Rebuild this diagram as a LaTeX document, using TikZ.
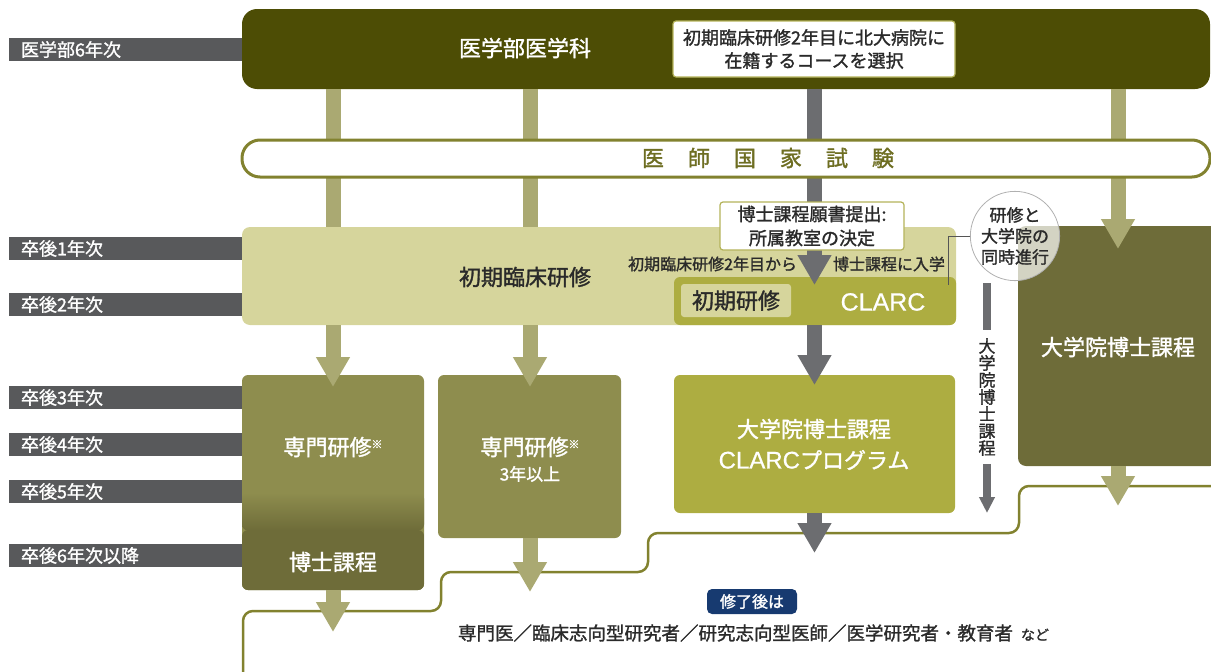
\documentclass[tikz,border=0pt]{standalone}
\usepackage{fontspec}
\setmainfont{Noto Sans CJK JP}[FakeBold=1.4]
\newfontfamily\latinf{Liberation Sans}[FakeBold=0.6]
\usetikzlibrary{arrows.meta}
\definecolor{labgrey}{HTML}{58595B}
\definecolor{topc}{HTML}{4D4D05}
\definecolor{lolive}{HTML}{AAA972}
\definecolor{capol}{HTML}{82822F}
\definecolor{captext}{HTML}{6E6E22}
\definecolor{khaki}{HTML}{D6D59C}
\definecolor{clarcc}{HTML}{ADAD41}
\definecolor{midol}{HTML}{8E8D4E}
\definecolor{darkol}{HTML}{6E6C39}
\definecolor{greya}{HTML}{6C6D70}
\definecolor{navy}{HTML}{173A70}
\definecolor{txt}{HTML}{2A2A2A}
\definecolor{wborder}{HTML}{B4B35A}
\definecolor{circgrey}{HTML}{B0B0B0}
\newcommand\fs[1]{\fontsize{#1}{#1}\selectfont}
\newcommand\gp{\hspace{24pt}}
\begin{document}
\begin{tikzpicture}[x=1pt,y=-1pt,
  every node/.style={inner sep=0pt, outer sep=0pt},
  lab/.style={fill=labgrey, text=white, anchor=west, minimum height=23pt, text width=210pt, align=left, inner xsep=12pt, font=\fs{18}},
  blk/.style={rectangle, rounded corners=#1},
  lbar/.style={draw=lolive, line width=15pt},
  lfat/.style={draw=lolive, line width=15pt, -{Triangle[width=32pt,length=30pt]}},
  gfat/.style={draw=greya, line width=15pt, -{Triangle[width=32pt,length=30pt]}},
  wbox/.style={rectangle, rounded corners=3pt, fill=white, draw=wborder, line width=1.2pt, align=center, text=txt},
  stepl/.style={draw=capol, line width=2.5pt, rounded corners=10pt},
  vbar/.style={draw=greya, line width=8pt}
]
\useasboundingbox (0,0) rectangle (1211,672);

% year labels
\node[lab] (y0) at (9,49.5) {医学部6年次};
\node[lab] (y1) at (9,248.5) {卒後1年次};
\node[lab] (y2) at (9,304.5) {卒後2年次};
\node[lab] (y3) at (9,397.5) {卒後3年次};
\node[lab] (y4) at (9,444.5) {卒後4年次};
\node[lab] (y5) at (9,491.5) {卒後5年次};
\node[lab] (y6) at (9,555.5) {卒後6年次以降};

% main boxes
\node[blk=15pt, fill=topc, minimum width=968pt, minimum height=80pt] (top) at (726,49) {};
\node[blk=8pt, fill=khaki, minimum width=714pt, minimum height=98pt] (band) at (599,276) {};
\node[blk=6pt, fill=clarcc, minimum width=282pt, minimum height=48pt] (clarc) at (815,301) {};
\node[blk=3pt, fill=khaki, minimum width=110pt, minimum height=33pt, text=txt, font=\fs{22}] (shoki) at (736,300.5) {初期研修};
\node[blk=6pt, fill=midol, minimum width=182pt, minimum height=215pt,
  path picture={
    \fill[darkol] ([yshift=-47.5pt]path picture bounding box.west) rectangle (path picture bounding box.south east);
    \shade[top color=midol, bottom color=darkol] ([yshift=-10pt]path picture bounding box.west) rectangle ([yshift=-48pt]path picture bounding box.east);
  }] (sen1) at (333,482.5) {};
\node[blk=6pt, fill=midol, minimum width=183pt, minimum height=163pt] (sen2) at (529.5,456.5) {};
\node[blk=6pt, fill=clarcc, minimum width=281pt, minimum height=138pt] (cprog) at (814.5,444) {};
\node[blk=8pt, fill=darkol, minimum width=200pt, minimum height=240pt] (rbox) at (1118,346) {};

% bottom step line
\draw[stepl] (243,690) -- (243,611) -- (441,611) -- (441,572) -- (648,572) -- (648,533) -- (1019,533) -- (1019,486) -- (1230,486);

% connectors
\coordinate (c1) at (333,0);
\coordinate (c2) at (530,0);
\coordinate (c3) at (814.5,0);
\coordinate (c4) at (1118,0);
\draw[lbar] (top.south -| c1) -- (band.north -| c1);
\draw[lbar] (top.south -| c2) -- (band.north -| c2);
\draw[lfat] (top.south -| c4) -- ([yshift=-23pt]rbox.north -| c4);
\draw[gfat] (top.south -| c3) -- ([yshift=-8pt]clarc.north -| c3);
\draw[lfat] (band.south -| c1) -- ([yshift=-12pt]sen1.north -| c1);
\draw[lfat] (band.south -| c2) -- ([yshift=-12pt]sen2.north -| c2);
\draw[gfat] (clarc.south -| c3) -- ([yshift=-10pt]cprog.north -| c3);
\draw[lfat] (sen1.south -| c1) -- ([yshift=-42pt]sen1.south -| c1);
\draw[lfat] (sen2.south -| c2) -- ([yshift=-54pt]sen2.south -| c2);
\draw[gfat] (cprog.south -| c3) -- ([yshift=-40pt]cprog.south -| c3);
\draw[lfat] (rbox.south -| c4) -- ([yshift=-40pt]rbox.south -| c4);

% exam capsule
\node[blk=18pt, draw=capol, line width=3pt, fill=white, minimum width=968pt, minimum height=37pt] (cap) at (726,158.5) {};
\node[text=captext, font=\fs{22}] (captxt) at (768,158) {医\gp 師\gp 国\gp 家\gp 試\gp 験};

% white boxes
\node[wbox, minimum width=282pt, minimum height=56pt, font=\fontsize{18}{23}\selectfont] (sel) at (814,49) {初期臨床研修2年目に北大病院に\\在籍するコースを選択};
\node[wbox, minimum width=184pt, minimum height=48pt, font=\fontsize{18}{24}\selectfont] (hakase) at (812,226) {博士課程願書提出:\\所属教室の決定};

% circle
\node[circle, minimum size=88pt, fill=white, fill opacity=0.7, text opacity=1, draw=circgrey, line width=0.8pt, align=center, text=txt, font=\fontsize{17}{21}\selectfont] (circ) at (1015,236) {研修と\\大学院の\\同時進行};
\coordinate (cl) at (948,285);
\draw[draw=txt!80, line width=0.8pt] (circ.west) -| (cl);

% vertical label
\node[text=txt, align=center, font=\fontsize{17}{17}\selectfont] (vlab) at (987,397) {大\\学\\院\\博\\士\\課\\程};
\coordinate (vtop) at (987,283);
\coordinate (vend) at (987,513);
\draw[vbar] (vtop) -- ([yshift=8pt]vlab.north);
\draw[vbar, -{Triangle[width=15pt,length=16pt]}] ([yshift=-8pt]vlab.south) -- (vend);

% texts
\node[text=white, font=\fs{22}] (toptxt) at (525,48) {医学部医学科};
\node[text=txt, font=\fs{22}] (bandtxt) at (525,277) {初期臨床研修};
\node[text=white, font=\latinf\fs{25}] (clarctxt) at (883,302) {CLARC};
\node[anchor=east, text=txt, font=\fs{16}] (from2) at (797,264) {初期臨床研修2年目から};
\node[anchor=west, text=txt, font=\fs{16}] (enter) at (833,264) {博士課程に入学};
\node[text=white, font=\fs{22}] (s1a) at (333,447) {専門研修\raisebox{7pt}{\fs{11}※}};
\node[text=white, font=\fs{22}] (s1b) at (333,562) {博士課程};
\node[text=white, font=\fs{22}] (s2a) at (530,447) {専門研修\raisebox{7pt}{\fs{11}※}};
\node[text=white, font=\fs{17}] (s2b) at (530,474) {3年以上};
\node[text=white, font=\fs{22}] (cp1) at (814,429) {大学院博士課程};
\node[text=white, font=\fs{22}] (cp2) at (814,460) {{\latinf\fs{24}CLARC}プログラム};
\node[text=white, font=\fs{22}] (rtxt) at (1118,347) {大学院博士課程};

% bottom
\node[blk=5pt, fill=navy, text=white, minimum width=90pt, minimum height=25pt, font=\fs{16}] (badge) at (752,601.5) {修了後は};
\node[anchor=west, text=txt, font=\fs{18.5}] (career) at (458,633) {専門医／臨床志向型研究者／研究志向型医師／医学研究者・教育者\hspace{8pt}{\fs{14}など}};
\end{tikzpicture}
\end{document}
